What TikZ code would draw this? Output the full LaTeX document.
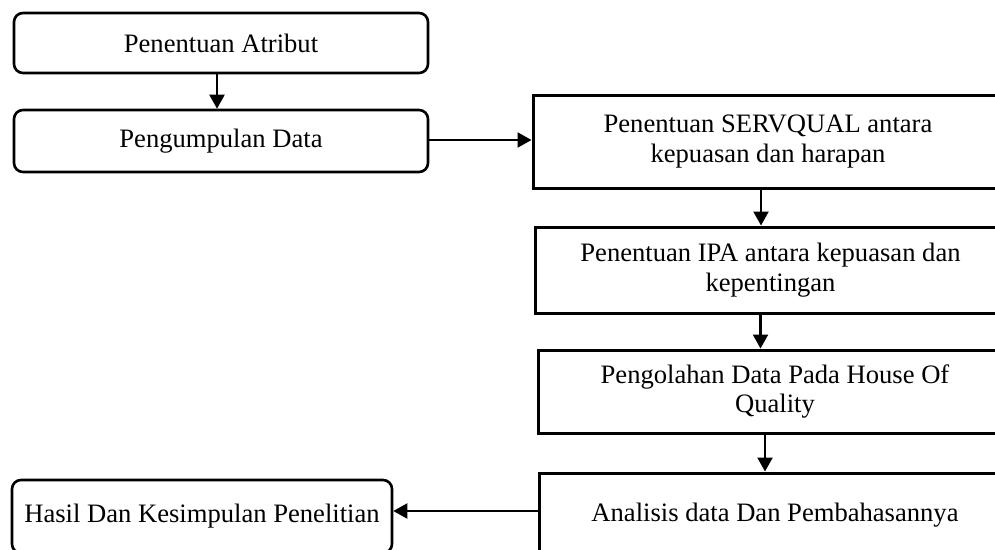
\documentclass[tikz,border=0pt]{standalone}
\usepackage{fontspec}
\setmainfont{Liberation Serif}
\usetikzlibrary{arrows.meta}
\begin{document}
\begin{tikzpicture}[x=1pt,y=-1pt,
  rbox/.style={draw, line width=2.6pt, rounded corners=9pt, align=center, inner sep=0pt,
    font=\fontsize{26.6}{29.5}\selectfont},
  sbox/.style={draw, line width=3pt, align=center, inner sep=0pt,
    font=\fontsize{26.6}{29.5}\selectfont},
  arr/.style={line width=2.2pt, -{Triangle[length=14pt,width=15pt]}}]
\clip (0,0) rectangle (995,549);
\node[rbox, minimum width=414pt, minimum height=60pt] (b1) at (221,43) {Penentuan Atribut};
\node[rbox, minimum width=414pt, minimum height=62pt] (b2) at (221,141) {Pengumpulan Data};
\node[sbox, minimum width=470pt, minimum height=93pt] (b3) at (768,141.5) {Penentuan SERVQUAL antara\\kepuasan dan harapan};
\node[sbox, minimum width=471pt, minimum height=86pt] (b4) at (770.5,270) {Penentuan IPA antara kepuasan dan\\kepentingan};
\node[sbox, minimum width=474pt, minimum height=83pt] (b5) at (775,391.5) {Pengolahan Data Pada House Of\\Quality};
\node[sbox, minimum width=472pt, minimum height=84pt] (b6) at (775,515) {Analisis data Dan Pembahasannya};
\node[rbox, minimum width=380pt, minimum height=73pt] (b7) at (202,516.5) {Hasil Dan Kesimpulan Penelitian};
\draw[arr] ([xshift=-4pt]b1.south) -- ([xshift=-4pt]b1.south |- b2.north);
\draw[arr] ([yshift=1pt]b2.east) -- ([yshift=1pt]b2.east -| b3.west);
\draw[arr] ([xshift=-7pt]b3.south) -- ([xshift=-7pt]b3.south |- b4.north);
\draw[arr] ([xshift=-10pt]b4.south) -- ([xshift=-10pt]b4.south |- b5.north);
\draw[arr] ([xshift=-10pt]b5.south) -- ([xshift=-10pt]b5.south |- b6.north);
\draw[arr] ([yshift=4pt]b6.west) -- ([yshift=4pt]b6.west -| b7.east);
\end{tikzpicture}
\end{document}
